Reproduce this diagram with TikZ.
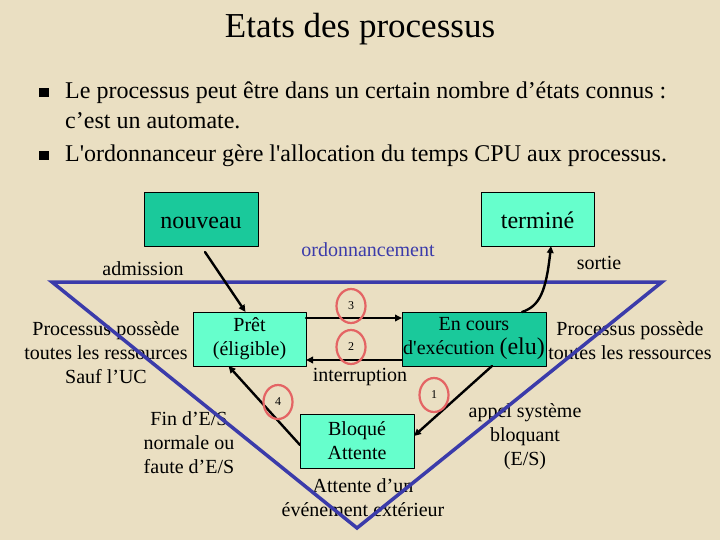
\documentclass[tikz,border=0pt]{standalone}
\usepackage{fontspec}
\setmainfont{Liberation Serif}[Ligatures=TeXOff]
\usepackage{tikz}
\usetikzlibrary{arrows.meta,positioning,calc,shapes.geometric}
\definecolor{parchment}{HTML}{EADFC2}
\definecolor{darkteal}{HTML}{1AC99B}
\definecolor{aqua}{HTML}{66FFCC}
\definecolor{triblue}{HTML}{3B3BAA}
\definecolor{ringred}{HTML}{E46464}
\newcommand{\ptsize}[2]{\fontsize{#1pt}{#2pt}\selectfont}
\tikzset{
    every picture/.style={line cap=round,line join=round},
    statebox/.style={draw=black,line width=0.8pt,minimum width=114pt,
      minimum height=54pt,inner sep=0pt,outer sep=0pt,align=center,
      font=\ptsize{20}{24}},
    darkstate/.style={statebox,fill=darkteal},
    lightstate/.style={statebox,fill=aqua},
    bigstate/.style={font=\ptsize{24}{28},text height=20pt,text depth=1pt},
    note/.style={inner sep=0pt,align=center,font=\ptsize{20}{24}},
    linetext/.style={inner sep=0pt,anchor=base west,font=\ptsize{24}{30}},
    bulletsq/.style={fill=black,minimum size=9.5pt,inner sep=0pt},
    flowarrow/.style={-{Triangle[length=7pt,width=6.5pt]},draw=black,
      line width=2.4pt},
    ring/.style={ellipse,draw=ringred,line width=2.2pt,minimum width=29pt,
      minimum height=34pt,inner sep=0pt,font=\ptsize{12}{14}},
    zone/.style={draw=triblue,line width=3.5pt,line join=miter}
}
\begin{document}
\begin{tikzpicture}[x=1pt,y=-1pt]
  \useasboundingbox (0,0) rectangle (720,540);
  \fill[parchment] (0,0) rectangle (720,540);
  \node[font=\ptsize{35}{40},anchor=base,inner sep=0pt] (title) at (360,38) {Etats des processus};
  \node[bulletsq] (b1) at (44,92.5) {};
  \node[linetext] (t1) at (65,99) {Le processus peut être dans un certain nombre d’états connus :};
  \node[linetext] (t1b) at (65,129) {c’est un automate.};
  \node[bulletsq] (b2) at (44,155.5) {};
  \node[linetext] (t2) at (65,162) {L'ordonnanceur gère l'allocation du temps CPU aux processus.};

  \node[note] (adm) at (143,269) {admission};
  \node[note,text=triblue] (ordo) at (368,250) {ordonnancement};
  \node[note] (sort) at (599,263) {sortie};
  \node[note] (resl) at (106,353) {Processus possède\\toutes les ressources\\Sauf l’UC};
  \node[note] (resr) at (630,341) {Processus possède\\toutes les ressources};
  \node[note] (fin) at (189,443) {Fin d’E/S\\normale ou\\faute d’E/S};
  \node[note] (intr) at (360,377) {interruption};
  \node[note] (att) at (363,498) {Attente d’un\\événement extérieur};
  \node[note] (appel) at (525,437) {appel système\\bloquant\\(E/S)};

  \draw[zone] (52,282) -- (662,282) -- (357,528) -- cycle;

  \node[darkstate,bigstate] (nouv) at (201,219) {nouveau};
  \node[lightstate,bigstate,minimum width=113pt] (term) at (537.5,219) {terminé};
  \node[lightstate,minimum width=113pt] (pret) at (249.5,339) {Prêt\\(éligible)};
  \node[darkstate,minimum width=144pt] (cours) at (474,339) {En cours\\d'exécution {\ptsize{24}{24}(elu)}};
  \node[lightstate] (bloq) at (357,441) {Bloqué\\Attente};

  \draw[flowarrow] ($(nouv.south)+(4,6)$) -- ($(pret.north)+(-4,0)$);
  \draw[flowarrow] ($(pret.north east)+(0,6)$) -- ($(cours.north west)+(0,6)$);
  \draw[flowarrow] ($(cours.south west)+(0,-6)$) -- ($(pret.south east)+(0,-6)$);
  \draw[flowarrow] ($(cours.north)+(48,0)$) .. controls +(18,-6) and +(-5,45) .. ($(term.south)+(13.5,0)$);
  \draw[flowarrow] ($(cours.south)+(18,0)$) -- ($(bloq.east)+(0,-5)$);
  \draw[flowarrow] ($(bloq.west)+(0,4)$) -- ($(pret.south)+(-21,0)$);

  \node[ring] (r3) at (351,306) {3};
  \node[ring] (r2) at (351,347) {2};
  \node[ring] (r1) at (434,395) {1};
  \node[ring] (r4) at (278,402) {4};
\end{tikzpicture}
\end{document}
